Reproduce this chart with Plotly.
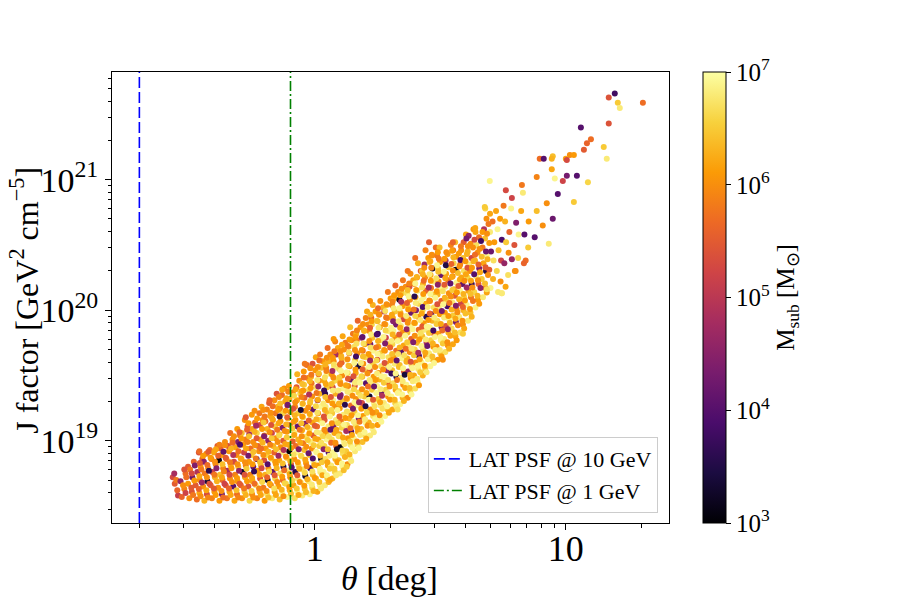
import numpy as np
import plotly.graph_objects as go

# values, in log10 units (theta in deg, J in GeV^2 cm^-5, Msub in Msun)
log_theta = [
    -0.566, -0.558, -0.545, -0.552,
    -0.53, -0.52, -0.535, -0.515, -0.505,
    -0.50, -0.49, -0.505, -0.488, -0.497, -0.482,
    -0.47, -0.46, -0.475, -0.458, -0.468, -0.455, -0.448, -0.462,
    -0.44, -0.43, -0.445, -0.428, -0.438, -0.425, -0.442, -0.432, -0.418,
    -0.41, -0.40, -0.415, -0.398, -0.408, -0.395, -0.412, -0.402, -0.388,
    -0.38, -0.37, -0.385, -0.368, -0.378, -0.365, -0.382, -0.372, -0.376, -0.358,
    -0.35, -0.34, -0.355, -0.338, -0.348, -0.335, -0.352, -0.342, -0.346, -0.328, -0.337,
    -0.32, -0.31, -0.325, -0.308, -0.318, -0.305, -0.322, -0.312, -0.316, -0.306, -0.298, -0.309,
    -0.29, -0.28, -0.295, -0.278, -0.288, -0.275, -0.292, -0.282, -0.286, -0.276, -0.291, -0.268, -0.279,
    -0.26, -0.25, -0.265, -0.248, -0.258, -0.245, -0.262, -0.252, -0.256, -0.246, -0.261, -0.249, -0.238, -0.251,
    -0.23, -0.22, -0.235, -0.218, -0.228, -0.215, -0.232, -0.222, -0.226, -0.216, -0.231, -0.219, -0.208, -0.221, -0.212,
    -0.20, -0.19, -0.205, -0.188, -0.198, -0.185, -0.202, -0.192, -0.196, -0.186, -0.201, -0.189, -0.197, -0.178, -0.191, -0.182,
    -0.17, -0.16, -0.175, -0.158, -0.168, -0.155, -0.172, -0.162, -0.166, -0.156, -0.171, -0.159, -0.167, -0.157, -0.148, -0.161, -0.152,
    -0.14, -0.13, -0.145, -0.128, -0.138, -0.125, -0.142, -0.132, -0.136, -0.126, -0.141, -0.129, -0.137, -0.127, -0.139, -0.118, -0.131, -0.122,
    -0.11, -0.10, -0.115, -0.098, -0.108, -0.095, -0.112, -0.102, -0.106, -0.096, -0.111, -0.099, -0.107, -0.097, -0.109, -0.101, -0.088, -0.103,
    -0.08, -0.07, -0.085, -0.068, -0.078, -0.065, -0.082, -0.072, -0.076, -0.066, -0.081, -0.069, -0.077, -0.067, -0.079, -0.071, -0.058, -0.073, -0.062, -0.07,
    -0.05, -0.04, -0.055, -0.038, -0.048, -0.035, -0.052, -0.042, -0.046, -0.036, -0.051, -0.039, -0.047, -0.037, -0.049, -0.041, -0.053, -0.043, -0.028, -0.044, -0.032,
    -0.02, -0.01, -0.025, -0.008, -0.018, -0.005, -0.022, -0.012, -0.016, -0.006, -0.021, -0.009, -0.017, -0.007, -0.019, -0.011, -0.023, -0.013, -0.015, 0.002, -0.009, 0.004,
    0.01, 0.02, 0.005, 0.022, 0.012, 0.025, 0.008, 0.018, 0.014, 0.024, 0.009, 0.021, 0.013, 0.023, 0.011, 0.019, 0.007, 0.017, 0.015, 0.026, 0.032, 0.021,
    0.04, 0.05, 0.035, 0.052, 0.042, 0.055, 0.038, 0.048, 0.044, 0.054, 0.039, 0.051, 0.043, 0.053, 0.041, 0.049, 0.037, 0.047, 0.045, 0.056, 0.062, 0.051,
    0.07, 0.08, 0.065, 0.082, 0.072, 0.085, 0.068, 0.078, 0.074, 0.084, 0.069, 0.081, 0.073, 0.083, 0.071, 0.079, 0.067, 0.077, 0.075, 0.086, 0.092, 0.081,
    0.10, 0.11, 0.095, 0.112, 0.102, 0.115, 0.098, 0.108, 0.104, 0.114, 0.099, 0.111, 0.103, 0.113, 0.101, 0.109, 0.097, 0.107, 0.105, 0.116, 0.122, 0.111,
    0.13, 0.14, 0.125, 0.142, 0.132, 0.145, 0.128, 0.138, 0.134, 0.144, 0.129, 0.141, 0.133, 0.143, 0.131, 0.139, 0.127, 0.137, 0.135, 0.146, 0.152, 0.141,
    0.16, 0.17, 0.155, 0.172, 0.162, 0.175, 0.158, 0.168, 0.164, 0.174, 0.159, 0.171, 0.163, 0.173, 0.161, 0.169, 0.157, 0.167, 0.165, 0.182, 0.171,
    0.19, 0.20, 0.185, 0.202, 0.192, 0.205, 0.188, 0.198, 0.194, 0.204, 0.189, 0.201, 0.193, 0.203, 0.191, 0.199, 0.187, 0.197, 0.212, 0.203, 0.208,
    0.22, 0.23, 0.215, 0.232, 0.222, 0.235, 0.218, 0.228, 0.224, 0.234, 0.219, 0.231, 0.223, 0.233, 0.221, 0.229, 0.217, 0.227, 0.225, 0.242, 0.231,
    0.25, 0.26, 0.245, 0.262, 0.252, 0.265, 0.248, 0.258, 0.254, 0.264, 0.249, 0.261, 0.253, 0.263, 0.251, 0.259, 0.247, 0.257, 0.272, 0.261,
    0.28, 0.29, 0.275, 0.292, 0.282, 0.295, 0.278, 0.288, 0.284, 0.294, 0.279, 0.291, 0.283, 0.293, 0.281, 0.289, 0.277, 0.287, 0.302, 0.291,
    0.31, 0.32, 0.305, 0.322, 0.312, 0.325, 0.308, 0.318, 0.314, 0.324, 0.309, 0.321, 0.313, 0.323, 0.311, 0.319, 0.307, 0.317, 0.332, 0.321,
    0.34, 0.35, 0.335, 0.352, 0.342, 0.355, 0.338, 0.348, 0.344, 0.354, 0.339, 0.351, 0.343, 0.353, 0.341, 0.349, 0.337, 0.347, 0.362, 0.351,
    0.37, 0.38, 0.365, 0.382, 0.372, 0.385, 0.368, 0.378, 0.374, 0.384, 0.369, 0.381, 0.373, 0.383, 0.371, 0.379, 0.367, 0.377, 0.392, 0.381,
    0.40, 0.41, 0.395, 0.412, 0.402, 0.415, 0.398, 0.408, 0.404, 0.414, 0.399, 0.411, 0.403, 0.413, 0.401, 0.409, 0.397, 0.407, 0.422, 0.411,
    0.43, 0.44, 0.425, 0.442, 0.432, 0.445, 0.428, 0.438, 0.434, 0.444, 0.429, 0.441, 0.433, 0.443, 0.431, 0.439, 0.427, 0.437, 0.452, 0.441,
    0.46, 0.47, 0.455, 0.472, 0.462, 0.475, 0.458, 0.468, 0.464, 0.474, 0.459, 0.471, 0.463, 0.473, 0.461, 0.469, 0.457, 0.467, 0.482,
    0.49, 0.50, 0.485, 0.502, 0.492, 0.505, 0.488, 0.498, 0.494, 0.504, 0.489, 0.501, 0.493, 0.503, 0.491, 0.499, 0.487, 0.497,
    0.52, 0.53, 0.515, 0.532, 0.522, 0.535, 0.518, 0.528, 0.524, 0.534, 0.519, 0.531, 0.523, 0.533, 0.521, 0.529, 0.542,
    0.55, 0.56, 0.545, 0.562, 0.552, 0.565, 0.548, 0.558, 0.554, 0.564, 0.549, 0.561, 0.553, 0.563, 0.551, 0.559,
    0.58, 0.59, 0.575, 0.592, 0.582, 0.595, 0.578, 0.588, 0.584, 0.594, 0.579, 0.591, 0.583, 0.593, 0.602,
    0.61, 0.62, 0.605, 0.622, 0.612, 0.625, 0.608, 0.618, 0.614, 0.624, 0.609, 0.621, 0.613, 0.632,
    0.64, 0.65, 0.635, 0.652, 0.642, 0.655, 0.638, 0.648, 0.644, 0.654, 0.639,
    0.67, 0.68, 0.665, 0.682, 0.672, 0.685, 0.668, 0.678, 0.674, 0.684, 0.679,
    0.70, 0.71, 0.695, 0.712, 0.702, 0.715, 0.698, 0.708, 0.722,
    0.73, 0.74, 0.725, 0.742, 0.732, 0.745, 0.728, 0.738, 0.752,
    0.76, 0.77, 0.755, 0.772, 0.762, 0.775, 0.758, 0.782,
    0.80, 0.81, 0.795, 0.812, 0.802, 0.822,
    0.84, 0.85, 0.835, 0.852,
    # second, offset pass through the dense core
    -0.548, -0.56,
    -0.515, -0.525, -0.512, -0.52,
    -0.485, -0.492, -0.48, -0.49, -0.478,
    -0.455, -0.462, -0.45, -0.46, -0.452, -0.458, -0.445,
    -0.425, -0.432, -0.42, -0.43, -0.422, -0.428, -0.415, -0.424,
    -0.395, -0.402, -0.39, -0.40, -0.392, -0.398, -0.385, -0.394,
    -0.365, -0.372, -0.36, -0.37, -0.362, -0.368, -0.355, -0.364, -0.358,
    -0.335, -0.342, -0.33, -0.34, -0.332, -0.338, -0.325, -0.334, -0.328, -0.322,
    -0.305, -0.312, -0.30, -0.31, -0.302, -0.308, -0.295, -0.304, -0.298, -0.292, -0.30,
    -0.275, -0.282, -0.27, -0.28, -0.272, -0.278, -0.265, -0.274, -0.268, -0.262, -0.27, -0.264,
    -0.245, -0.252, -0.24, -0.25, -0.242, -0.248, -0.235, -0.244, -0.238, -0.232, -0.24, -0.234, -0.23,
    -0.215, -0.222, -0.21, -0.22, -0.212, -0.218, -0.205, -0.214, -0.208, -0.202, -0.21, -0.204, -0.20, -0.206,
    -0.185, -0.192, -0.18, -0.19, -0.182, -0.188, -0.175, -0.184, -0.178, -0.172, -0.18, -0.174, -0.17, -0.176, -0.168,
    -0.155, -0.162, -0.15, -0.16, -0.152, -0.158, -0.145, -0.154, -0.148, -0.142, -0.15, -0.144, -0.14, -0.146, -0.138, -0.143,
    -0.125, -0.132, -0.12, -0.13, -0.122, -0.128, -0.115, -0.124, -0.118, -0.112, -0.12, -0.114, -0.11, -0.116, -0.108, -0.113, -0.106,
    -0.095, -0.102, -0.09, -0.10, -0.092, -0.098, -0.085, -0.094, -0.088, -0.082, -0.09, -0.084, -0.08, -0.086, -0.078, -0.083, -0.076,
    -0.065, -0.072, -0.06, -0.07, -0.062, -0.068, -0.055, -0.064, -0.058, -0.052, -0.06, -0.054, -0.05, -0.056, -0.048, -0.053, -0.046, -0.05, -0.044,
    -0.035, -0.042, -0.03, -0.04, -0.032, -0.038, -0.025, -0.034, -0.028, -0.022, -0.03, -0.024, -0.02, -0.026, -0.018, -0.023, -0.016, -0.02, -0.014, -0.018,
    -0.005, -0.012, 0.0, -0.01, -0.002, -0.008, 0.005, -0.004, 0.002, 0.008, 0.0, 0.006, 0.01, 0.004, 0.012, 0.007, 0.014, 0.01, 0.016, 0.012, 0.018,
    0.025, 0.018, 0.03, 0.02, 0.028, 0.022, 0.035, 0.026, 0.032, 0.038, 0.03, 0.036, 0.04, 0.034, 0.042, 0.037, 0.044, 0.04, 0.046, 0.042, 0.048,
    0.055, 0.048, 0.06, 0.05, 0.058, 0.052, 0.065, 0.056, 0.062, 0.068, 0.06, 0.066, 0.07, 0.064, 0.072, 0.067, 0.074, 0.07, 0.076, 0.072, 0.078,
    0.085, 0.078, 0.09, 0.08, 0.088, 0.082, 0.095, 0.086, 0.092, 0.098, 0.09, 0.096, 0.10, 0.094, 0.102, 0.097, 0.104, 0.10, 0.106, 0.102, 0.108,
    0.115, 0.108, 0.12, 0.11, 0.118, 0.112, 0.125, 0.116, 0.122, 0.128, 0.12, 0.126, 0.13, 0.124, 0.132, 0.127, 0.134, 0.13, 0.136, 0.132, 0.138,
    0.145, 0.138, 0.15, 0.14, 0.148, 0.142, 0.155, 0.146, 0.152, 0.158, 0.15, 0.156, 0.16, 0.154, 0.162, 0.157, 0.164, 0.16, 0.166, 0.162, 0.168,
    0.175, 0.168, 0.18, 0.17, 0.178, 0.172, 0.185, 0.176, 0.182, 0.188, 0.18, 0.186, 0.19, 0.184, 0.192, 0.187, 0.194, 0.19, 0.196, 0.192,
    0.205, 0.198, 0.21, 0.20, 0.208, 0.202, 0.215, 0.206, 0.212, 0.218, 0.21, 0.216, 0.22, 0.214, 0.222, 0.217, 0.224, 0.22, 0.226, 0.222,
    0.235, 0.228, 0.24, 0.23, 0.238, 0.232, 0.245, 0.236, 0.242, 0.248, 0.24, 0.246, 0.25, 0.244, 0.252, 0.247, 0.254, 0.25, 0.256, 0.252,
    0.265, 0.258, 0.27, 0.26, 0.268, 0.262, 0.275, 0.266, 0.272, 0.278, 0.27, 0.276, 0.28, 0.274, 0.282, 0.277, 0.284, 0.28, 0.286,
    0.295, 0.288, 0.30, 0.29, 0.298, 0.292, 0.305, 0.296, 0.302, 0.308, 0.30, 0.306, 0.31, 0.304, 0.312, 0.307, 0.314, 0.31, 0.316,
    0.325, 0.318, 0.33, 0.32, 0.328, 0.322, 0.335, 0.326, 0.332, 0.338, 0.33, 0.336, 0.34, 0.334, 0.342, 0.337, 0.344, 0.34, 0.346,
    0.355, 0.348, 0.36, 0.35, 0.358, 0.352, 0.365, 0.356, 0.362, 0.368, 0.36, 0.366, 0.37, 0.364, 0.372, 0.367, 0.374, 0.37, 0.376,
    0.385, 0.378, 0.39, 0.38, 0.388, 0.382, 0.395, 0.386, 0.392, 0.398, 0.39, 0.396, 0.40, 0.394, 0.402, 0.397, 0.404, 0.40, 0.406,
    0.415, 0.408, 0.42, 0.41, 0.418, 0.412, 0.425, 0.416, 0.422, 0.428, 0.42, 0.426, 0.43, 0.424, 0.432, 0.427, 0.434, 0.43, 0.436,
    0.445, 0.438, 0.45, 0.44, 0.448, 0.442, 0.455, 0.446, 0.452, 0.458, 0.45, 0.456, 0.46, 0.454, 0.462, 0.457, 0.464, 0.46, 0.466,
    0.475, 0.468, 0.48, 0.47, 0.478, 0.472, 0.485, 0.476, 0.482, 0.488, 0.48, 0.486, 0.49, 0.484, 0.492, 0.487, 0.494, 0.49,
    0.505, 0.498, 0.51, 0.50, 0.508, 0.502, 0.515, 0.506, 0.512, 0.518, 0.51, 0.516, 0.52, 0.514, 0.522, 0.517, 0.524,
    0.535, 0.528, 0.54, 0.53, 0.538, 0.532, 0.545, 0.536, 0.542, 0.548, 0.54, 0.546, 0.55, 0.544, 0.552, 0.547,
    0.565, 0.558, 0.57, 0.56, 0.568, 0.562, 0.575, 0.566, 0.572, 0.578, 0.57, 0.576, 0.58, 0.574, 0.582,
    0.595, 0.588, 0.60, 0.59, 0.598, 0.592, 0.605, 0.596, 0.602, 0.608, 0.60, 0.606, 0.61, 0.604,
    0.625, 0.618, 0.63, 0.62, 0.628, 0.622, 0.635, 0.626, 0.632, 0.638, 0.63, 0.636, 0.64,
    0.655, 0.648, 0.66, 0.65, 0.658, 0.652, 0.665, 0.656, 0.662, 0.668,
    0.685, 0.678, 0.69, 0.68, 0.688, 0.682, 0.695, 0.686, 0.692, 0.698,
    # stray points round the edges
    0.455, 0.55, 0.40, 0.37, 0.22, 0.075, -0.04, -0.13, -0.18, -0.24, -0.275, -0.38, -0.46, 0.33, 0.51, 0.59, 0.685, 0.745, 0.127, 0.06,
    # sparse tail at large theta
    1.195, 1.171, 1.207, 1.215, 1.307, 1.171, 1.060, 1.100, 1.084, 1.072, 1.151, 1.163, 1.016, 1.032, 1.000,
    1.004, 0.948, 0.944, 0.896, 0.912, 1.044, 1.004, 0.988, 1.088, 1.032, 0.697, 0.761, 0.785, 0.825, 0.829,
    0.884, 0.944, 0.956, 0.968, 0.924, 0.884, 0.948, 0.908, 0.876, 0.932, 0.833, 0.797, 0.745, 0.785, 0.677,
]

log_j = [
    18.72, 18.67, 18.58, 18.70,
    18.57, 18.63, 18.69, 18.75, 18.80,
    18.56, 18.61, 18.67, 18.72, 18.78, 18.84,
    18.55, 18.60, 18.66, 18.70, 18.76, 18.80, 18.86, 18.91,
    18.54, 18.59, 18.65, 18.69, 18.75, 18.79, 18.84, 18.90, 18.93,
    18.56, 18.61, 18.66, 18.72, 18.76, 18.82, 18.86, 18.91, 18.96,
    18.54, 18.59, 18.64, 18.70, 18.74, 18.79, 18.85, 18.89, 18.94, 18.99,
    18.56, 18.61, 18.66, 18.71, 18.77, 18.81, 18.86, 18.92, 18.96, 19.01, 19.06,
    18.54, 18.59, 18.65, 18.69, 18.74, 18.80, 18.84, 18.89, 18.95, 18.99, 19.04, 19.09,
    18.56, 18.61, 18.66, 18.72, 18.76, 18.81, 18.86, 18.91, 18.97, 19.01, 19.06, 19.11, 19.16,
    18.54, 18.59, 18.65, 18.69, 18.74, 18.80, 18.84, 18.89, 18.94, 18.99, 19.05, 19.09, 19.14, 19.20,
    18.56, 18.61, 18.66, 18.71, 18.77, 18.81, 18.86, 18.92, 18.96, 19.01, 19.06, 19.12, 19.16, 19.21, 19.26,
    18.54, 18.59, 18.64, 18.70, 18.74, 18.79, 18.85, 18.89, 18.94, 19.00, 19.04, 19.09, 19.15, 19.19, 19.24, 19.29,
    18.56, 18.61, 18.66, 18.71, 18.76, 18.82, 18.86, 18.91, 18.96, 19.02, 19.06, 19.11, 19.16, 19.21, 19.26, 19.31, 19.36,
    18.55, 18.60, 18.65, 18.70, 18.75, 18.80, 18.85, 18.91, 18.95, 19.00, 19.05, 19.10, 19.15, 19.21, 19.25, 19.30, 19.35, 19.40,
    18.57, 18.62, 18.67, 18.72, 18.77, 18.82, 18.87, 18.92, 18.97, 19.02, 19.07, 19.12, 19.17, 19.22, 19.27, 19.32, 19.37, 19.42,
    18.56, 18.61, 18.66, 18.71, 18.76, 18.81, 18.86, 18.91, 18.96, 19.01, 19.06, 19.11, 19.16, 19.21, 19.26, 19.31, 19.36, 19.41, 19.46, 19.51,
    18.58, 18.63, 18.68, 18.73, 18.78, 18.83, 18.88, 18.93, 18.98, 19.03, 19.08, 19.13, 19.18, 19.23, 19.28, 19.33, 19.38, 19.43, 19.48, 19.53, 19.58,
    18.59, 18.64, 18.69, 18.74, 18.79, 18.84, 18.89, 18.94, 18.99, 19.04, 19.09, 19.14, 19.19, 19.24, 19.29, 19.34, 19.39, 19.44, 19.49, 19.54, 19.59, 19.64,
    18.61, 18.66, 18.71, 18.76, 18.81, 18.86, 18.91, 18.96, 19.01, 19.06, 19.11, 19.16, 19.21, 19.26, 19.31, 19.36, 19.41, 19.46, 19.51, 19.56, 19.61, 19.66,
    18.66, 18.71, 18.76, 18.81, 18.86, 18.91, 18.96, 19.01, 19.06, 19.11, 19.16, 19.21, 19.26, 19.31, 19.36, 19.41, 19.46, 19.51, 19.56, 19.61, 19.66, 19.71,
    18.71, 18.76, 18.81, 18.86, 18.91, 18.96, 19.01, 19.06, 19.11, 19.16, 19.21, 19.26, 19.31, 19.36, 19.41, 19.46, 19.51, 19.56, 19.61, 19.66, 19.71, 19.76,
    18.75, 18.80, 18.85, 18.90, 18.95, 19.00, 19.05, 19.10, 19.15, 19.20, 19.25, 19.30, 19.35, 19.40, 19.45, 19.50, 19.55, 19.60, 19.65, 19.70, 19.75, 19.80,
    18.82, 18.87, 18.92, 18.97, 19.02, 19.07, 19.12, 19.17, 19.22, 19.27, 19.32, 19.37, 19.42, 19.47, 19.52, 19.57, 19.62, 19.67, 19.72, 19.77, 19.82, 19.87,
    18.92, 18.97, 19.02, 19.07, 19.12, 19.17, 19.22, 19.27, 19.32, 19.37, 19.42, 19.47, 19.52, 19.57, 19.62, 19.67, 19.72, 19.77, 19.82, 19.87, 19.92,
    18.99, 19.04, 19.09, 19.14, 19.19, 19.24, 19.29, 19.34, 19.39, 19.44, 19.49, 19.54, 19.59, 19.64, 19.69, 19.74, 19.79, 19.84, 19.89, 19.94, 19.99,
    19.04, 19.09, 19.14, 19.19, 19.24, 19.29, 19.34, 19.39, 19.44, 19.49, 19.54, 19.59, 19.64, 19.69, 19.74, 19.79, 19.84, 19.89, 19.94, 19.99, 20.04,
    19.12, 19.17, 19.22, 19.27, 19.32, 19.37, 19.42, 19.47, 19.52, 19.57, 19.62, 19.67, 19.72, 19.77, 19.82, 19.87, 19.92, 19.97, 20.02, 20.07,
    19.19, 19.24, 19.29, 19.34, 19.39, 19.44, 19.49, 19.54, 19.59, 19.64, 19.69, 19.74, 19.79, 19.84, 19.89, 19.94, 19.99, 20.04, 20.09, 20.14,
    19.24, 19.29, 19.34, 19.39, 19.44, 19.49, 19.54, 19.59, 19.64, 19.69, 19.74, 19.79, 19.84, 19.89, 19.94, 19.99, 20.04, 20.09, 20.14, 20.19,
    19.28, 19.33, 19.38, 19.43, 19.48, 19.53, 19.58, 19.63, 19.68, 19.73, 19.78, 19.83, 19.88, 19.93, 19.98, 20.03, 20.08, 20.13, 20.18, 20.23,
    19.33, 19.38, 19.43, 19.48, 19.53, 19.58, 19.63, 19.68, 19.73, 19.78, 19.83, 19.88, 19.93, 19.98, 20.03, 20.08, 20.13, 20.18, 20.23, 20.28,
    19.40, 19.45, 19.50, 19.55, 19.60, 19.65, 19.70, 19.75, 19.80, 19.85, 19.90, 19.95, 20.00, 20.05, 20.10, 20.15, 20.20, 20.25, 20.30, 20.36,
    19.50, 19.55, 19.60, 19.65, 19.70, 19.75, 19.80, 19.85, 19.90, 19.95, 20.00, 20.05, 20.10, 20.15, 20.20, 20.25, 20.30, 20.35, 20.40, 20.46,
    19.57, 19.62, 19.67, 19.72, 19.77, 19.82, 19.87, 19.92, 19.97, 20.02, 20.07, 20.12, 20.17, 20.22, 20.27, 20.32, 20.37, 20.42, 20.48,
    19.62, 19.67, 19.72, 19.77, 19.82, 19.87, 19.92, 19.97, 20.02, 20.07, 20.12, 20.17, 20.22, 20.27, 20.32, 20.37, 20.42, 20.48,
    19.68, 19.73, 19.78, 19.83, 19.88, 19.93, 19.98, 20.03, 20.08, 20.13, 20.18, 20.23, 20.28, 20.33, 20.38, 20.43, 20.50,
    19.74, 19.80, 19.86, 19.91, 19.96, 20.01, 20.06, 20.11, 20.16, 20.21, 20.26, 20.31, 20.36, 20.41, 20.46, 20.52,
    19.83, 19.89, 19.95, 20.00, 20.05, 20.10, 20.15, 20.20, 20.25, 20.30, 20.35, 20.40, 20.46, 20.52, 20.58,
    19.92, 19.98, 20.04, 20.10, 20.15, 20.20, 20.25, 20.30, 20.35, 20.40, 20.45, 20.51, 20.57, 20.62,
    20.02, 20.08, 20.14, 20.20, 20.26, 20.32, 20.38, 20.44, 20.50, 20.56, 20.63,
    20.10, 20.17, 20.24, 20.30, 20.36, 20.42, 20.48, 20.55, 20.62, 20.70, 20.78,
    20.17, 20.24, 20.31, 20.38, 20.45, 20.52, 20.60, 20.68, 20.76,
    20.14, 20.22, 20.30, 20.38, 20.46, 20.54, 20.62, 20.70, 20.80,
    20.18, 20.27, 20.36, 20.44, 20.52, 20.60, 20.68, 20.78,
    20.30, 20.40, 20.50, 20.58, 20.67, 20.76,
    20.38, 20.48, 20.58, 20.68,
    # second pass
    18.62, 18.75,
    18.60, 18.66, 18.72, 18.78,
    18.585, 18.64, 18.695, 18.75, 18.81,
    18.575, 18.63, 18.68, 18.73, 18.78, 18.83, 18.885,
    18.565, 18.62, 18.67, 18.72, 18.77, 18.815, 18.87, 18.915,
    18.585, 18.635, 18.69, 18.74, 18.79, 18.84, 18.885, 18.935,
    18.565, 18.615, 18.67, 18.72, 18.765, 18.82, 18.87, 18.915, 18.965,
    18.585, 18.635, 18.685, 18.74, 18.79, 18.835, 18.89, 18.94, 18.985, 19.035,
    18.565, 18.62, 18.67, 18.715, 18.77, 18.82, 18.865, 18.92, 18.97, 19.015, 19.065,
    18.585, 18.635, 18.69, 18.74, 18.785, 18.835, 18.885, 18.94, 18.99, 19.035, 19.085, 19.135,
    18.565, 18.615, 18.67, 18.715, 18.765, 18.82, 18.865, 18.915, 18.965, 19.02, 19.07, 19.115, 19.17,
    18.585, 18.635, 18.685, 18.74, 18.79, 18.835, 18.89, 18.94, 18.985, 19.035, 19.09, 19.14, 19.185, 19.235,
    18.565, 18.615, 18.67, 18.72, 18.765, 18.82, 18.87, 18.915, 18.97, 19.02, 19.065, 19.12, 19.17, 19.215, 19.265,
    18.585, 18.635, 18.685, 18.735, 18.79, 18.84, 18.885, 18.935, 18.99, 19.04, 19.085, 19.135, 19.185, 19.235, 19.285, 19.335,
    18.575, 18.625, 18.675, 18.725, 18.775, 18.825, 18.88, 18.93, 18.975, 19.025, 19.075, 19.125, 19.18, 19.23, 19.275, 19.325, 19.375,
    18.595, 18.645, 18.695, 18.745, 18.795, 18.845, 18.895, 18.945, 18.995, 19.045, 19.095, 19.145, 19.195, 19.245, 19.295, 19.345, 19.395,
    18.585, 18.635, 18.685, 18.735, 18.785, 18.835, 18.885, 18.935, 18.985, 19.035, 19.085, 19.135, 19.185, 19.235, 19.285, 19.335, 19.385, 19.435, 19.485,
    18.605, 18.655, 18.705, 18.755, 18.805, 18.855, 18.905, 18.955, 19.005, 19.055, 19.105, 19.155, 19.205, 19.255, 19.305, 19.355, 19.405, 19.455, 19.505, 19.555,
    18.615, 18.665, 18.715, 18.765, 18.815, 18.865, 18.915, 18.965, 19.015, 19.065, 19.115, 19.165, 19.215, 19.265, 19.315, 19.365, 19.415, 19.465, 19.515, 19.565, 19.615,
    18.635, 18.685, 18.735, 18.785, 18.835, 18.885, 18.935, 18.985, 19.035, 19.085, 19.135, 19.185, 19.235, 19.285, 19.335, 19.385, 19.435, 19.485, 19.535, 19.585, 19.635,
    18.685, 18.735, 18.785, 18.835, 18.885, 18.935, 18.985, 19.035, 19.085, 19.135, 19.185, 19.235, 19.285, 19.335, 19.385, 19.435, 19.485, 19.535, 19.585, 19.635, 19.685,
    18.735, 18.785, 18.835, 18.885, 18.935, 18.985, 19.035, 19.085, 19.135, 19.185, 19.235, 19.285, 19.335, 19.385, 19.435, 19.485, 19.535, 19.585, 19.635, 19.685, 19.735,
    18.775, 18.825, 18.875, 18.925, 18.975, 19.025, 19.075, 19.125, 19.175, 19.225, 19.275, 19.325, 19.375, 19.425, 19.475, 19.525, 19.575, 19.625, 19.675, 19.725, 19.775,
    18.845, 18.895, 18.945, 18.995, 19.045, 19.095, 19.145, 19.195, 19.245, 19.295, 19.345, 19.395, 19.445, 19.495, 19.545, 19.595, 19.645, 19.695, 19.745, 19.795, 19.845,
    18.945, 18.995, 19.045, 19.095, 19.145, 19.195, 19.245, 19.295, 19.345, 19.395, 19.445, 19.495, 19.545, 19.595, 19.645, 19.695, 19.745, 19.795, 19.845, 19.895,
    19.015, 19.065, 19.115, 19.165, 19.215, 19.265, 19.315, 19.365, 19.415, 19.465, 19.515, 19.565, 19.615, 19.665, 19.715, 19.765, 19.815, 19.865, 19.915, 19.965,
    19.065, 19.115, 19.165, 19.215, 19.265, 19.315, 19.365, 19.415, 19.465, 19.515, 19.565, 19.615, 19.665, 19.715, 19.765, 19.815, 19.865, 19.915, 19.965, 20.015,
    19.145, 19.195, 19.245, 19.295, 19.345, 19.395, 19.445, 19.495, 19.545, 19.595, 19.645, 19.695, 19.745, 19.795, 19.845, 19.895, 19.945, 19.995, 20.045,
    19.215, 19.265, 19.315, 19.365, 19.415, 19.465, 19.515, 19.565, 19.615, 19.665, 19.715, 19.765, 19.815, 19.865, 19.915, 19.965, 20.015, 20.065, 20.115,
    19.265, 19.315, 19.365, 19.415, 19.465, 19.515, 19.565, 19.615, 19.665, 19.715, 19.765, 19.815, 19.865, 19.915, 19.965, 20.015, 20.065, 20.115, 20.165,
    19.305, 19.355, 19.405, 19.455, 19.505, 19.555, 19.605, 19.655, 19.705, 19.755, 19.805, 19.855, 19.905, 19.955, 20.005, 20.055, 20.105, 20.155, 20.205,
    19.355, 19.405, 19.455, 19.505, 19.555, 19.605, 19.655, 19.705, 19.755, 19.805, 19.855, 19.905, 19.955, 20.005, 20.055, 20.105, 20.155, 20.205, 20.255,
    19.425, 19.475, 19.525, 19.575, 19.625, 19.675, 19.725, 19.775, 19.825, 19.875, 19.925, 19.975, 20.025, 20.075, 20.125, 20.175, 20.225, 20.275, 20.325,
    19.525, 19.575, 19.625, 19.675, 19.725, 19.775, 19.825, 19.875, 19.925, 19.975, 20.025, 20.075, 20.125, 20.175, 20.225, 20.275, 20.325, 20.375, 20.425,
    19.595, 19.645, 19.695, 19.745, 19.795, 19.845, 19.895, 19.945, 19.995, 20.045, 20.095, 20.145, 20.195, 20.245, 20.295, 20.345, 20.395, 20.445,
    19.645, 19.695, 19.745, 19.795, 19.845, 19.895, 19.945, 19.995, 20.045, 20.095, 20.145, 20.195, 20.245, 20.295, 20.345, 20.395, 20.445,
    19.705, 19.755, 19.805, 19.855, 19.905, 19.955, 20.005, 20.055, 20.105, 20.155, 20.205, 20.255, 20.305, 20.355, 20.405, 20.455,
    19.77, 19.83, 19.885, 19.935, 19.985, 20.035, 20.085, 20.135, 20.185, 20.235, 20.285, 20.335, 20.385, 20.435, 20.49,
    19.86, 19.92, 19.975, 20.025, 20.075, 20.125, 20.175, 20.225, 20.275, 20.325, 20.375, 20.43, 20.49, 20.55,
    19.95, 20.01, 20.07, 20.125, 20.175, 20.225, 20.275, 20.325, 20.375, 20.425, 20.48, 20.54, 20.60,
    20.05, 20.11, 20.17, 20.23, 20.29, 20.35, 20.41, 20.47, 20.53, 20.60,
    20.135, 20.205, 20.27, 20.33, 20.39, 20.45, 20.515, 20.585, 20.66, 20.74,
    # strays
    20.52, 20.52, 20.40, 20.30, 20.07, 19.78, 19.59, 19.39, 19.31, 19.23, 19.18, 18.97, 18.92, 19.24, 19.62, 19.82, 20.16, 20.13, 18.80, 18.70,
    # tail
    21.66, 21.63, 21.59, 21.55, 21.59, 21.43, 21.40, 21.31, 21.28, 21.23, 21.25, 21.16, 21.19, 21.19, 21.16,
    21.15, 21.18, 21.16, 21.16, 21.16, 21.03, 21.03, 20.99, 20.98, 20.83, 20.99, 20.92, 20.86, 20.96, 20.90,
    21.02, 21.08, 21.01, 20.89, 20.82, 20.76, 20.70, 20.65, 20.56, 20.51, 20.36, 20.30, 20.13, 20.39, 20.79,
]

log_msub = [
    5.3, 5.5, 5.1, 5.8,
    5.6, 5.9, 4.6, 5.7, 5.5,
    6.0, 5.4, 6.1, 4.2, 5.8, 5.6,
    5.7, 6.2, 5.5, 6.0, 4.9, 6.1, 5.6, 5.4,
    6.3, 5.3, 6.0, 3.4, 5.8, 6.2, 4.5, 5.9, 5.7,
    5.9, 6.1, 5.6, 6.3, 5.2, 6.0, 5.8, 6.2, 5.5,
    6.1, 4.3, 6.0, 5.7, 6.4, 5.9, 3.1, 6.1, 5.6, 6.0,
    5.8, 6.2, 5.5, 6.0, 4.8, 6.3, 5.9, 6.1, 5.4, 6.0, 5.7,
    6.2, 5.7, 4.0, 6.1, 5.9, 6.4, 5.3, 6.0, 6.2, 4.4, 5.8, 6.1,
    6.0, 6.5, 5.6, 6.2, 3.3, 5.9, 6.3, 5.2, 6.1, 5.8, 6.4, 5.5, 6.0,
    6.6, 6.0, 5.4, 6.2, 5.9, 4.2, 6.1, 6.5, 5.7, 6.0, 4.7, 6.2, 5.8, 6.1,
    5.9, 6.3, 6.8, 5.5, 6.1, 6.4, 3.8, 6.0, 5.6, 6.2, 6.6, 5.3, 6.0, 5.8, 6.2,
    6.1, 6.7, 5.8, 3.2, 6.3, 6.0, 5.4, 6.6, 6.1, 4.6, 6.0, 6.3, 5.7, 6.2, 5.9, 5.5,
    6.8, 6.2, 5.9, 6.6, 4.1, 6.1, 6.9, 5.6, 6.3, 6.0, 5.2, 6.5, 6.1, 5.8, 6.3, 6.0, 5.4,
    6.4, 6.9, 6.1, 5.7, 6.7, 3.5, 6.2, 6.8, 6.0, 5.5, 6.4, 4.4, 6.1, 6.6, 5.9, 6.2, 5.7, 6.0,
    6.9, 6.3, 6.7, 6.0, 6.8, 5.4, 6.5, 3.0, 6.2, 6.9, 6.1, 5.6, 6.4, 6.0, 4.8, 6.3, 5.9, 6.1,
    6.7, 6.9, 6.2, 6.8, 3.6, 6.6, 6.0, 6.9, 5.7, 6.3, 6.8, 4.2, 6.1, 6.5, 5.9, 6.2, 6.6, 5.5, 6.0, 6.3,
    6.8, 6.5, 6.9, 3.3, 6.7, 6.1, 6.9, 6.4, 5.8, 6.7, 6.2, 4.5, 6.6, 6.0, 6.8, 5.6, 6.2, 6.5, 5.9, 6.1, 5.7,
    6.9, 6.6, 6.8, 6.3, 3.8, 6.9, 6.5, 6.0, 6.8, 5.5, 6.7, 6.2, 6.9, 4.1, 6.4, 6.0, 6.6, 5.8, 6.3, 6.1, 5.4, 6.2,
    6.2, 6.9, 6.4, 6.8, 6.1, 3.2, 6.9, 6.5, 6.2, 6.8, 5.7, 6.6, 6.0, 6.9, 4.6, 6.3, 6.7, 6.0, 5.6, 6.4, 6.1, 5.8,
    6.8, 6.5, 6.9, 6.2, 6.7, 4.0, 6.6, 6.9, 6.1, 6.8, 5.5, 6.4, 6.8, 6.0, 3.6, 6.5, 6.2, 6.9, 5.9, 6.3, 6.0, 5.7,
    6.3, 6.6, 6.8, 6.3, 6.9, 5.6, 6.7, 6.2, 4.3, 6.8, 6.5, 6.0, 6.9, 6.3, 5.3, 6.6, 6.1, 6.8, 6.0, 4.8, 6.2, 5.9,
    6.8, 6.9, 6.4, 6.7, 3.1, 6.9, 6.2, 6.6, 5.8, 6.8, 6.1, 6.5, 4.5, 6.9, 6.2, 6.0, 6.7, 5.6, 6.3, 6.0, 5.8, 6.2,
    6.0, 6.9, 6.5, 6.8, 6.1, 3.9, 6.7, 6.3, 6.9, 5.7, 6.4, 6.8, 6.0, 4.2, 6.6, 6.1, 6.9, 5.5, 6.2, 6.0, 5.8, 6.4,
    6.8, 6.6, 6.9, 6.2, 6.7, 4.4, 6.5, 6.9, 6.0, 6.6, 5.4, 6.8, 6.2, 3.4, 6.5, 6.0, 6.7, 5.8, 6.3, 6.1, 5.6,
    6.4, 6.7, 6.4, 6.9, 6.1, 6.8, 5.3, 6.5, 6.9, 4.0, 6.3, 6.7, 6.0, 6.6, 5.7, 6.2, 4.7, 6.4, 6.0, 5.9, 6.2,
    6.8, 6.9, 6.3, 6.7, 6.0, 6.9, 3.3, 6.5, 6.8, 6.1, 5.5, 6.6, 6.2, 6.9, 4.3, 6.4, 6.0, 6.6, 5.6, 6.1, 6.3,
    6.1, 6.9, 6.2, 6.8, 6.5, 4.1, 6.9, 6.3, 6.0, 6.7, 5.4, 6.5, 6.1, 6.8, 3.7, 6.2, 6.6, 5.9, 6.3, 6.0,
    6.9, 6.4, 6.8, 6.1, 6.6, 5.6, 6.9, 4.5, 6.3, 6.7, 6.0, 6.5, 5.2, 6.8, 6.2, 6.0, 4.9, 6.4, 6.1, 5.8,
    6.2, 6.6, 6.9, 6.2, 6.7, 3.5, 6.4, 6.8, 6.1, 5.7, 6.6, 6.0, 6.9, 4.3, 6.2, 6.5, 5.9, 6.3, 6.0, 5.6,
    6.9, 6.3, 6.7, 6.0, 6.8, 5.5, 6.4, 6.9, 4.0, 6.2, 6.6, 6.0, 6.8, 5.3, 6.3, 6.1, 3.2, 6.5, 6.0, 5.8,
    6.0, 6.6, 6.9, 6.1, 4.6, 6.7, 6.3, 6.0, 6.8, 5.6, 6.4, 6.9, 6.1, 4.2, 6.5, 6.0, 6.7, 5.4, 6.2, 6.0,
    6.7, 6.9, 6.2, 6.8, 6.0, 3.8, 6.6, 6.3, 6.9, 5.7, 6.4, 6.0, 4.4, 6.6, 6.2, 6.8, 5.9, 6.1, 5.5, 6.3,
    6.3, 6.5, 6.9, 6.0, 6.7, 4.9, 6.4, 6.8, 6.1, 3.6, 6.6, 6.2, 6.9, 5.6, 6.3, 6.0, 6.5, 4.7, 6.1, 5.9,
    6.9, 6.4, 6.8, 6.1, 6.6, 5.5, 6.9, 6.3, 4.1, 6.7, 6.0, 6.5, 5.8, 6.8, 6.2, 3.3, 6.4, 6.0, 5.7,
    6.1, 6.5, 6.0, 6.9, 6.2, 4.5, 6.7, 6.1, 6.8, 5.6, 6.3, 6.9, 6.0, 4.2, 6.5, 6.1, 5.8, 6.4,
    6.7, 6.0, 6.8, 6.3, 5.4, 6.9, 6.1, 3.9, 6.6, 6.0, 6.8, 5.7, 6.2, 6.5, 4.8, 6.1, 5.9,
    6.2, 6.2, 6.7, 4.3, 6.5, 6.0, 6.8, 5.5, 6.3, 6.9, 6.0, 3.1, 6.6, 6.1, 5.8, 6.4,
    6.7, 6.0, 6.8, 6.3, 5.2, 6.6, 6.9, 4.1, 6.2, 6.7, 5.9, 6.4, 6.0, 5.5, 6.2,
    6.8, 6.4, 6.9, 5.8, 6.2, 3.7, 6.6, 6.0, 6.8, 5.3, 6.3, 6.0, 4.6, 6.1,
    6.9, 6.1, 6.6, 5.6, 6.8, 4.4, 6.3, 6.0, 6.7, 5.7, 6.2,
    6.8, 5.9, 6.5, 3.5, 6.2, 6.9, 5.8, 6.4, 4.9, 6.0, 6.6,
    6.9, 6.3, 5.5, 6.7, 4.2, 6.1, 6.8, 5.7, 6.2,
    6.8, 6.0, 6.6, 5.2, 6.4, 3.9, 6.9, 6.1, 5.8,
    6.2, 6.7, 4.6, 6.0, 6.5, 5.6, 6.3, 6.9,
    6.0, 6.6, 5.4, 6.9, 4.4, 6.2,
    5.7, 6.5, 4.0, 6.1,
    # second pass
    5.6, 4.8,
    5.2, 6.0, 5.7, 5.4,
    5.8, 5.5, 6.1, 5.3, 4.4,
    6.0, 5.6, 4.7, 6.2, 5.8, 5.5, 6.1,
    5.9, 6.2, 5.4, 6.0, 3.6, 5.7, 6.1, 5.5,
    6.1, 5.5, 6.3, 5.8, 4.5, 6.0, 5.6, 6.2,
    5.7, 6.0, 5.2, 6.2, 5.9, 6.4, 5.5, 4.1, 6.0,
    6.2, 5.6, 6.0, 5.3, 6.1, 5.8, 4.9, 6.3, 5.7, 6.0,
    5.9, 6.4, 5.5, 6.1, 4.6, 6.0, 6.2, 5.7, 3.9, 6.1, 5.6,
    6.3, 5.8, 6.1, 5.4, 6.5, 6.0, 4.3, 6.2, 5.9, 6.4, 5.6, 6.1,
    6.0, 6.5, 5.7, 6.2, 3.7, 6.1, 5.8, 6.4, 6.0, 5.5, 6.3, 4.8, 6.1,
    6.2, 5.9, 6.6, 6.1, 5.3, 6.4, 6.0, 5.7, 6.3, 4.4, 6.1, 6.5, 5.8, 6.0,
    6.4, 6.0, 6.2, 5.6, 6.6, 4.0, 6.1, 6.3, 5.9, 6.5, 6.0, 5.4, 6.2, 6.0, 5.7,
    6.2, 6.7, 6.0, 5.5, 6.3, 6.1, 4.7, 6.4, 6.0, 6.6, 5.8, 6.2, 3.5, 6.1, 6.4, 5.9,
    6.0, 6.3, 6.6, 6.1, 5.7, 6.4, 6.0, 4.9, 6.2, 6.5, 6.0, 6.3, 5.6, 6.1, 4.3, 6.2, 5.9,
    6.4, 6.1, 6.6, 6.2, 4.0, 6.3, 6.7, 6.0, 5.6, 6.2, 6.5, 6.1, 6.3, 5.4, 6.0, 6.6, 6.2,
    6.2, 6.5, 6.0, 5.5, 6.3, 6.1, 6.6, 4.4, 6.2, 6.0, 5.8, 6.4, 6.1, 3.4, 6.3, 5.9, 6.1, 6.4, 5.7,
    6.4, 6.1, 6.3, 6.6, 5.9, 6.2, 4.2, 6.0, 6.5, 6.1, 6.3, 5.6, 6.2, 6.0, 6.4, 4.9, 6.1, 6.3, 5.8, 6.0,
    6.3, 6.8, 6.1, 6.7, 6.2, 3.9, 6.9, 6.5, 6.2, 6.8, 5.5, 6.3, 6.7, 6.6, 6.2, 5.8, 4.6, 6.8, 6.4, 6.0, 5.7,
    6.8, 6.4, 6.2, 6.9, 6.5, 6.3, 4.5, 6.7, 6.6, 6.0, 6.9, 5.4, 6.3, 6.8, 6.4, 3.7, 6.2, 6.7, 5.9, 6.3, 6.0,
    6.3, 6.9, 6.5, 6.2, 6.8, 6.4, 5.7, 6.7, 4.1, 6.0, 6.9, 6.6, 6.1, 5.5, 6.8, 6.4, 6.0, 4.8, 6.7, 6.1, 5.8,
    6.8, 6.5, 6.1, 6.9, 3.3, 6.0, 6.7, 6.2, 6.6, 5.6, 6.9, 6.3, 4.4, 6.8, 6.0, 6.5, 6.9, 5.7, 6.3, 6.0, 6.2,
    6.4, 6.9, 6.3, 6.6, 6.8, 6.2, 4.8, 6.9, 6.1, 6.7, 3.6, 6.0, 6.8, 6.2, 5.5, 6.9, 6.4, 6.0, 6.7, 5.8, 6.1,
    6.8, 6.3, 6.9, 6.5, 6.2, 5.7, 6.8, 6.1, 4.3, 6.9, 6.0, 6.6, 6.8, 5.4, 6.1, 6.9, 3.8, 6.0, 6.7, 6.1, 5.9,
    6.9, 6.0, 6.8, 6.2, 5.8, 6.9, 6.1, 4.6, 6.7, 6.0, 6.9, 6.6, 5.5, 6.8, 6.4, 6.0, 6.7, 4.1, 6.3, 6.0,
    6.2, 6.9, 6.0, 6.8, 6.6, 3.5, 6.9, 6.2, 5.7, 6.8, 6.0, 6.9, 4.7, 6.1, 6.7, 6.0, 6.8, 5.6, 6.1, 6.3,
    6.8, 6.3, 6.9, 6.0, 6.7, 5.5, 6.9, 4.2, 6.1, 6.8, 6.0, 6.6, 6.9, 5.8, 6.3, 3.9, 6.8, 6.4, 6.0, 5.7,
    6.9, 6.0, 6.7, 6.2, 4.9, 6.8, 6.5, 6.9, 6.0, 5.4, 6.8, 6.1, 4.4, 6.9, 6.6, 6.0, 5.8, 6.7, 6.0,
    6.2, 6.9, 6.1, 6.8, 6.0, 6.7, 3.7, 6.9, 6.0, 6.4, 5.6, 6.8, 6.3, 6.9, 4.5, 6.2, 6.8, 5.9, 6.1,
    6.8, 6.3, 6.9, 6.5, 5.8, 6.9, 6.4, 4.1, 6.7, 6.3, 6.9, 5.5, 6.2, 6.8, 6.0, 6.9, 4.8, 6.1, 6.0,
    6.3, 6.9, 6.2, 6.8, 3.4, 6.9, 6.3, 6.7, 5.7, 6.5, 6.9, 4.6, 6.0, 6.8, 6.1, 5.6, 6.9, 6.4, 5.9,
    6.9, 6.4, 6.8, 6.3, 6.9, 5.4, 6.5, 6.8, 4.4, 6.0, 6.9, 6.1, 6.6, 5.8, 6.8, 3.6, 6.1, 6.9, 6.3,
    6.1, 6.8, 6.5, 6.9, 6.2, 4.8, 6.9, 6.1, 6.7, 5.5, 6.8, 6.2, 3.9, 6.9, 6.1, 6.7, 5.7, 6.3, 6.0,
    6.8, 6.1, 6.9, 6.2, 4.2, 6.8, 6.5, 6.9, 6.1, 5.6, 6.8, 6.0, 6.9, 4.7, 6.1, 6.8, 5.9, 6.2, 6.0,
    6.9, 6.4, 6.8, 6.3, 6.9, 3.8, 6.5, 6.8, 6.0, 5.4, 6.9, 6.1, 4.5, 6.7, 6.4, 6.9, 5.8, 6.1,
    6.1, 6.8, 6.5, 6.9, 5.7, 6.2, 6.8, 4.3, 6.9, 6.3, 6.7, 5.5, 6.2, 6.9, 3.5, 6.1, 6.0,
    6.3, 6.0, 6.2, 4.6, 6.4, 6.1, 6.3, 5.8, 6.0, 6.5, 4.1, 6.2, 6.0, 5.6, 6.3, 6.1,
    6.1, 6.4, 5.9, 6.2, 6.0, 4.4, 6.3, 6.1, 5.5, 6.2, 6.4, 6.0, 3.9, 6.1, 5.8,
    6.2, 6.0, 6.4, 5.6, 6.1, 6.3, 4.7, 6.0, 6.2, 5.4, 6.1, 6.3, 6.0, 4.3,
    6.3, 6.1, 5.8, 6.4, 6.0, 6.2, 4.0, 6.1, 6.3, 5.7, 6.0, 5.3, 6.2,
    6.1, 6.3, 4.5, 6.0, 6.2, 5.6, 6.4, 6.0, 3.8, 6.1,
    6.2, 6.4, 6.0, 5.5, 6.3, 4.2, 6.1, 6.0, 5.8, 6.2,
    # strays
    5.5, 5.6, 5.7, 5.8, 6.0, 6.1, 5.8, 6.2, 5.6, 6.0, 5.5, 5.9, 5.7, 6.7, 6.0, 6.5, 6.7, 6.8, 6.5, 6.2,
    # tail
    3.8, 5.4, 6.5, 6.8, 5.7, 5.4, 4.0, 5.7, 5.6, 5.5, 6.5, 6.8, 6.0, 6.1, 6.2,
    5.3, 6.4, 6.3, 5.7, 4.0, 4.0, 4.3, 5.2, 6.6, 6.5, 6.9, 5.3, 5.2, 5.8, 6.8,
    5.9, 6.2, 6.9, 4.0, 6.0, 6.4, 4.2, 6.0, 4.0, 6.8, 5.6, 6.0, 6.8, 4.6, 6.5,
]

psf_theta = [0.2, 0.8]
psf_names = ["LAT PSF @ 10 GeV", "LAT PSF @ 1 GeV"]
psf_colors = ["#0000ff", "#008000"]
psf_dash = ["11px,4px", "10px,3px,2px,3px"]

x_minor = [0.2, 0.3, 0.4, 0.5, 0.6, 0.7, 0.8, 0.9, 2, 3, 4, 5, 6, 7, 8, 9, 20]
y_minor = [3e18, 4e18, 5e18, 6e18, 7e18, 8e18, 9e18,
           2e19, 3e19, 4e19, 5e19, 6e19, 7e19, 8e19, 9e19,
           2e20, 3e20, 4e20, 5e20, 6e20, 7e20, 8e20, 9e20,
           2e21, 3e21, 4e21, 5e21, 6e21]

assert len(log_theta) == len(log_j) == len(log_msub), (len(log_theta), len(log_j), len(log_msub))

theta = 10 ** np.array(log_theta)
jfac = 10 ** np.array(log_j)

FONT = "Liberation Serif"

fig = go.Figure()
fig.add_trace(go.Scatter(
    x=theta, y=jfac, mode="markers", showlegend=False,
    marker=dict(
        size=6, color=log_msub, colorscale="Inferno", cmin=3, cmax=7,
        line=dict(width=0),
        colorbar=dict(
            x=1.061, xanchor="left", y=0.5, yanchor="middle",
            len=1.0, lenmode="fraction", thickness=23, xpad=0, ypad=0,
            outlinewidth=1, outlinecolor="black",
            tickvals=[3, 4, 5, 6, 7],
            ticktext=["10<sup>3</sup>", "10<sup>4</sup>", "10<sup>5</sup>",
                      "10<sup>6</sup>", "10<sup>7</sup>"],
            ticks="outside", ticklen=5, tickcolor="black",
            tickfont=dict(family=FONT, size=25, color="black"),
            title=dict(text="M<sub>sub</sub> [M<sub>⊙</sub>]", side="right",
                       font=dict(family=FONT, size=25, color="black")),
        ),
    ),
))

for xv, name, col, dash in zip(psf_theta, psf_names, psf_colors, psf_dash):
    fig.add_shape(type="line", x0=xv, x1=xv, y0=0, y1=1, xref="x", yref="paper",
                  line=dict(color=col, width=1.6, dash=dash), layer="above")
    fig.add_trace(go.Scatter(x=[None], y=[None], mode="lines", name=name,
                             line=dict(color=col, width=1.6, dash=dash)))

fig.update_xaxes(
    type="log", range=[-0.808, 1.411],
    tickvals=[1, 10], ticktext=["1", "10"],
    ticks="outside", ticklen=6, tickcolor="black", ticklabelstandoff=-12,
    tickfont=dict(family=FONT, size=36, color="black"),
    minor=dict(tickmode="array", tickvals=x_minor, ticks="outside", ticklen=3.5,
               tickcolor="black", showgrid=False),
    showline=True, mirror=True, linecolor="black", linewidth=1,
    showgrid=False, zeroline=False,
)
fig.update_yaxes(
    type="log", range=[18.370, 21.825],
    tickvals=[1e19, 1e20, 1e21],
    ticktext=["10<sup>19</sup>", "10<sup>20</sup>", "10<sup>21</sup>"],
    ticks="outside", ticklen=6, tickcolor="black",
    tickfont=dict(family=FONT, size=34, color="black"),
    minor=dict(tickmode="array", tickvals=y_minor, ticks="outside", ticklen=3.5,
               tickcolor="black", showgrid=False),
    showline=True, mirror=True, linecolor="black", linewidth=1,
    showgrid=False, zeroline=False,
)

fig.add_annotation(text="J factor [GeV<sup>2</sup> cm<sup>−5</sup>]", textangle=-90,
                   xref="paper", yref="paper", x=-0.157, y=0.494,
                   xanchor="center", yanchor="middle",
                   showarrow=False, font=dict(family=FONT, size=32, color="black"))
fig.add_annotation(text="<i>θ</i> [deg]", xref="paper", yref="paper",
                   x=0.498, y=-0.122, xanchor="center", yanchor="middle",
                   showarrow=False, font=dict(family=FONT, size=34, color="black"))

fig.update_layout(
    width=899, height=599,
    margin=dict(l=112, r=230, t=72, b=76),
    paper_bgcolor="white", plot_bgcolor="white",
    font=dict(family=FONT, color="black"),
    legend=dict(x=0.98, y=0.022, xanchor="right", yanchor="bottom",
                bgcolor="rgba(255,255,255,0.8)", bordercolor="#cccccc", borderwidth=1,
                font=dict(family=FONT, size=22, color="black")),
)

fig.write_html("out.html", config={"displayModeBar": False},
               post_script="document.body.style.margin='0';")
